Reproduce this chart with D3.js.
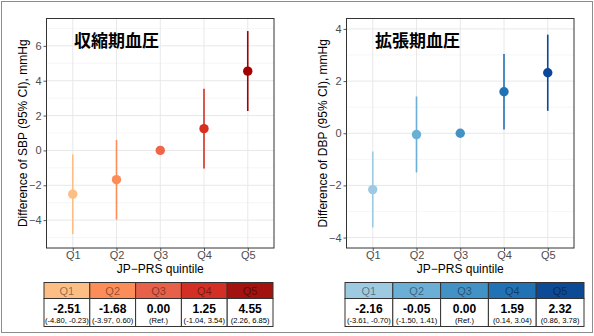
<!DOCTYPE html>
<html><head><meta charset="utf-8">
<script src="https://cdn.jsdelivr.net/npm/d3@7"></script>
<style>body{margin:0;background:#fff}svg{display:block}</style>
</head><body>
<svg id="c" width="594" height="336"></svg>
<script>
const categories = ["Q1","Q2","Q3","Q4","Q5"];
const sbpMean = [-2.51, -1.68, 0.00, 1.25, 4.55];
const sbpLow  = [-4.80, -3.97, 0.00, -1.04, 2.26];
const sbpHigh = [-0.23, 0.60, 0.00, 3.54, 6.85];
const sbpCI = ["(-4.80, -0.23)","(-3.97, 0.60)","(Ref.)","(-1.04, 3.54)","(2.26, 6.85)"];
const dbpMean = [-2.16, -0.05, 0.00, 1.59, 2.32];
const dbpLow  = [-3.61, -1.50, 0.00, 0.14, 0.86];
const dbpHigh = [-0.70, 1.41, 0.00, 3.04, 3.78];
const dbpCI = ["(-3.61, -0.70)","(-1.50, 1.41)","(Ref.)","(0.14, 3.04)","(0.86, 3.78)"];
const sbpTicks = [-4,-2,0,2,4,6];
const dbpTicks = [-4,-2,0,2,4];
const sbpColors = ["#FDBE85","#FC8D59","#EF6548","#D7301F","#A50000"];
const dbpColors = ["#9ECAE1","#6BAED6","#4292C6","#2171B5","#08479A"];
const sbpHeader = ["#FDBE85","#FC8D59","#E6604A","#D32F24","#A3120F"];
const dbpHeader = ["#9ECAE1","#6BAED6","#4292C6","#2171B5","#0C4A96"];

const svg = d3.select("#c");
svg.append("rect").attr("x",1.5).attr("y",1.5).attr("width",591).attr("height",331)
  .attr("fill","none").attr("stroke","#8c8c8c").attr("stroke-width",1);

function panel(o){
  const g = svg.append("g");
  const xs = d3.scalePoint().domain(categories).range([o.x0,o.x1]).padding(0.6);
  const y = d3.scaleLinear().domain(o.domain).range([o.y1,o.y0]);
  const minor = d3.range(Math.ceil(o.domain[0]), Math.floor(o.domain[1])+1).filter(v=>Math.abs(v%2)===1);
  g.selectAll(".mn").data(minor).join("line").attr("x1",o.x0).attr("x2",o.x1)
    .attr("y1",d=>y(d)).attr("y2",d=>y(d)).attr("stroke","#f2f2f2").attr("stroke-width",0.7);
  g.selectAll(".mj").data(o.ticks).join("line").attr("x1",o.x0).attr("x2",o.x1)
    .attr("y1",d=>y(d)).attr("y2",d=>y(d)).attr("stroke","#e8e8e8").attr("stroke-width",1);
  g.selectAll(".vx").data(categories).join("line").attr("x1",d=>xs(d)).attr("x2",d=>xs(d))
    .attr("y1",o.y0).attr("y2",o.y1).attr("stroke","#e8e8e8").attr("stroke-width",1);
  const ya = g.append("g").attr("transform",`translate(${o.x0},0)`)
    .call(d3.axisLeft(y).tickValues(o.ticks).tickSize(3).tickPadding(2).tickFormat(d=>d<0?"\u2212"+Math.abs(d):d));
  ya.select(".domain").remove();
  ya.selectAll("line").attr("stroke","#555");
  ya.selectAll("text").attr("fill","#4d4d4d").style("font-family","Liberation Sans, Arial, sans-serif").style("font-size","11px");
  const xa = g.append("g").attr("transform",`translate(0,${o.y1})`)
    .call(d3.axisBottom(xs).tickSize(3).tickPadding(1));
  xa.select(".domain").remove();
  xa.selectAll("line").attr("stroke","#555");
  xa.selectAll("text").attr("fill","#4d4d4d").attr("dy","0.68em").style("font-family","Liberation Sans, Arial, sans-serif").style("font-size","11px");
  g.append("rect").attr("x",o.x0).attr("y",o.y0).attr("width",o.x1-o.x0).attr("height",o.y1-o.y0)
    .attr("fill","none").attr("stroke","#333").attr("stroke-width",1);
  categories.forEach((c,i)=>{
    if (o.low[i]!==o.high[i]) {
      g.append("line").attr("x1",xs(c)).attr("x2",xs(c)).attr("y1",y(o.low[i])).attr("y2",y(o.high[i]))
        .attr("stroke",o.colors[i]).attr("stroke-width",1.6);
    }
  });
  g.selectAll(".pt").data(categories).join("circle").attr("cx",d=>xs(d)).attr("cy",(d,i)=>y(o.mean[i]))
    .attr("r",4.7).attr("fill",(d,i)=>o.colors[i]);
  g.append("text").attr("x",o.titleX).attr("y",47).text(o.title)
    .style("font-family","Noto Sans CJK JP, sans-serif").style("font-weight","700").style("font-size","17px").attr("fill","#000");
  g.append("text").attr("transform",`translate(${o.yLabX},${(o.y0+o.y1)/2}) rotate(-90)`)
    .attr("text-anchor","middle").attr("dominant-baseline","central").text(o.ylab)
    .style("font-family","Liberation Sans, Arial, sans-serif").style("font-size","12px").attr("fill","#000");
  g.append("text").attr("x",(o.x0+o.x1)/2).attr("y",273).attr("text-anchor","middle").text("JP\u2212PRS quintile")
    .style("font-family","Liberation Sans, Arial, sans-serif").style("font-size","12px").attr("fill","#000");
  const tx = d3.scaleBand().domain(categories).range([o.tx0,o.tx1]);
  const tg = svg.append("g");
  categories.forEach((c,i)=>{
    tg.append("rect").attr("x",tx(c)).attr("y",282.5).attr("width",tx.bandwidth()).attr("height",16)
      .attr("fill",o.header[i]).attr("stroke","#333").attr("stroke-width",1);
    tg.append("rect").attr("x",tx(c)).attr("y",298.5).attr("width",tx.bandwidth()).attr("height",28)
      .attr("fill","#fff").attr("stroke","#333").attr("stroke-width",1);
    tg.append("text").attr("x",tx(c)+tx.bandwidth()/2).attr("y",294.5).attr("text-anchor","middle").text(c)
      .style("font-family","Liberation Sans, Arial, sans-serif").style("font-size","11px").attr("fill","#000").attr("fill-opacity",0.45);
    tg.append("text").attr("x",tx(c)+tx.bandwidth()/2).attr("y",312.5).attr("text-anchor","middle").text(o.mean[i].toFixed(2))
      .style("font-family","Liberation Sans, Arial, sans-serif").style("font-weight","700").style("font-size","12px").attr("fill","#000");
    tg.append("text").attr("x",tx(c)+tx.bandwidth()/2).attr("y",322.5).attr("text-anchor","middle").text(o.ci[i])
      .style("font-family","Liberation Sans, Arial, sans-serif").style("font-size","7.6px").attr("fill","#000");
  });
}

panel({x0:46.5,x1:274,y0:18.5,y1:248,domain:[-5.6,7.57],ticks:sbpTicks,mean:sbpMean,low:sbpLow,high:sbpHigh,
  colors:sbpColors,header:sbpHeader,ci:sbpCI,title:"収縮期血圧",titleX:74,yLabX:23,
  ylab:"Difference of SBP (95% CI), mmHg",tx0:44,tx1:273});
panel({x0:346.5,x1:574,y0:18.5,y1:248,domain:[-4.4,4.4],ticks:dbpTicks,mean:dbpMean,low:dbpLow,high:dbpHigh,
  colors:dbpColors,header:dbpHeader,ci:dbpCI,title:"拡張期血圧",titleX:375,yLabX:323,
  ylab:"Difference of DBP (95% CI), mmHg",tx0:345,tx1:584});
</script>
</body></html>
